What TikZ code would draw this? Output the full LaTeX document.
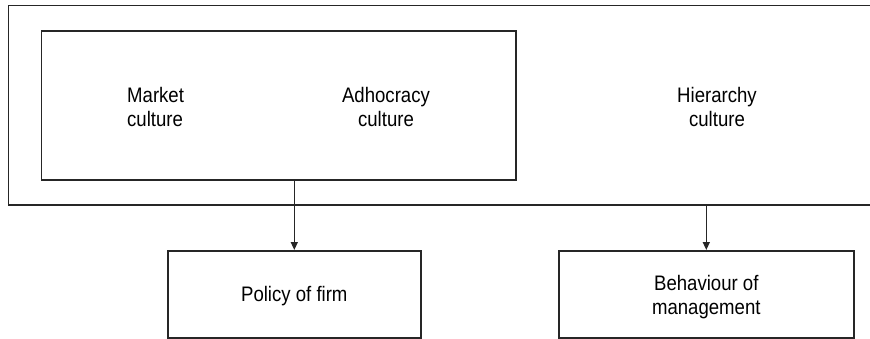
\documentclass[tikz,border=0pt]{standalone}
\usepackage{fontspec}
\setmainfont{Liberation Sans}[FakeStretch=0.885]
\usetikzlibrary{arrows.meta}
\begin{document}
\begin{tikzpicture}[x=1pt,y=-1pt,
  frame/.style={draw=black!85, line width=1.6pt, inner sep=0pt, anchor=north west},
  label/.style={font=\fontsize{21}{24.5}\selectfont, inner sep=0pt, align=center},
  flow/.style={draw=black!85, line width=1.4pt, -{Triangle[width=7pt,length=8pt]}}]
  \useasboundingbox (0,0) rectangle (870,338);
  \clip (0,0) rectangle (870,338);
  % outer block, running on past the right edge
  \node[frame, minimum width=900pt, minimum height=199.5pt] (outer) at (7.5,4.5) {};
  % inner block holding the market and adhocracy cultures
  \node[frame, minimum width=474.5pt, minimum height=149pt] (inner) at (40.5,30) {};
  \node[label, align=left, anchor=west] (market) at (127,107) {Market\\culture};
  \node[label] (adhoc) at (386,107) {Adhocracy\\culture};
  \node[label] (hier) at (717,107) {Hierarchy\\culture};
  % outcome boxes
  \node[frame, minimum width=253pt, minimum height=87pt] (policy) at (167,250) {};
  \node[label] (policytxt) at ([yshift=-2pt]policy.center) {Policy of firm};
  \node[frame, minimum width=295pt, minimum height=87pt] (behav) at (558,250) {};
  \node[label] (behavtxt) at ([yshift=-3pt]behav.center) {Behaviour of\\management};
  % links
  \draw[flow] (inner.south -| policy.north) -- (policy.north);
  \draw[flow] (outer.south -| behav.north) -- (behav.north);
\end{tikzpicture}
\end{document}
